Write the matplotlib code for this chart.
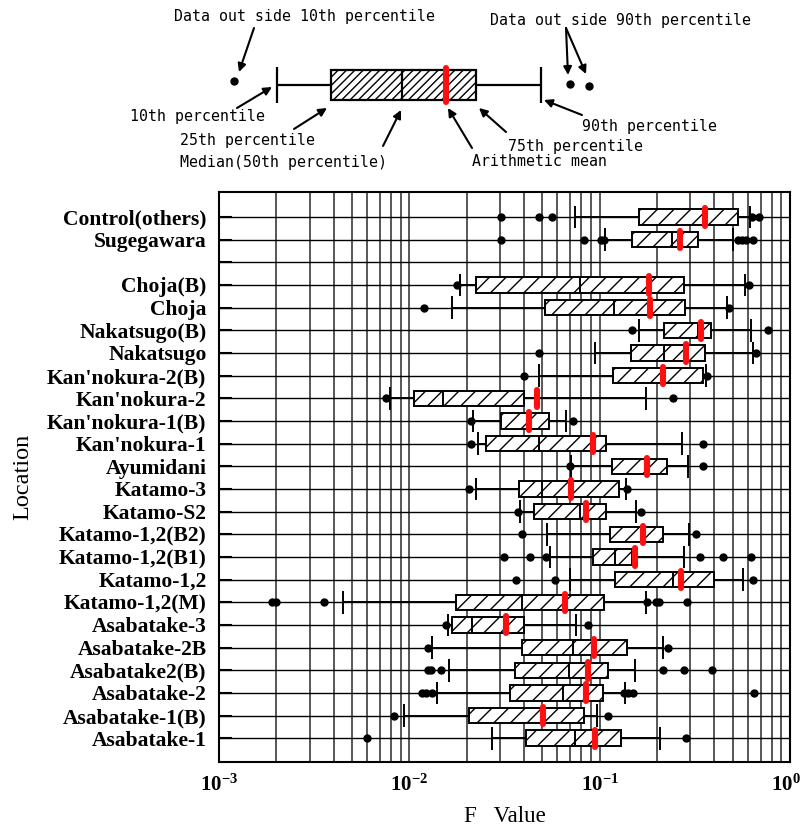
import numpy as np
import matplotlib
matplotlib.use("Agg")
import matplotlib.pyplot as plt
from matplotlib.ticker import LogLocator, NullFormatter

plt.rcParams['font.family'] = ['Liberation Serif', 'DejaVu Serif']
plt.rcParams['font.weight'] = 'bold'
plt.rcParams['hatch.linewidth'] = 1.0

# rows from top to bottom ('' = empty spacer row)
locations = ["Control(others)", "Sugegawara", "", "Choja(B)", "Choja",
             "Nakatsugo(B)", "Nakatsugo", "Kan'nokura-2(B)", "Kan'nokura-2",
             "Kan'nokura-1(B)", "Kan'nokura-1", "Ayumidani", "Katamo-3",
             "Katamo-S2", "Katamo-1,2(B2)", "Katamo-1,2(B1)", "Katamo-1,2",
             "Katamo-1,2(M)", "Asabatake-3", "Asabatake-2B", "Asabatake2(B)",
             "Asabatake-2", "Asabatake-1(B)", "Asabatake-1"]

p10 = [0.074, 0.107, None, 0.0185, 0.0168, 0.161, 0.0947, 0.048, 0.0079,
       0.0217, 0.0229, 0.0705, 0.0225, 0.038, 0.053, 0.0547, 0.070, 0.00449,
       0.016, 0.0132, 0.0162, 0.014, 0.00935, 0.0272]
p25 = [0.161, 0.147, None, 0.0225, 0.0518, 0.219, 0.146, 0.118, 0.0106,
       0.0304, 0.0252, 0.116, 0.0376, 0.0453, 0.1135, 0.0927, 0.12, 0.0176,
       0.0168, 0.0393, 0.036, 0.0336, 0.0206, 0.0412]
median = [0.355, 0.239, None, 0.079, 0.119, 0.33, 0.218, 0.21, 0.015,
          0.042, 0.0482, 0.175, 0.050, 0.079, 0.165, 0.12, 0.244, 0.039,
          0.0214, 0.0726, 0.0686, 0.064, 0.05, 0.0743]
mean = [0.358, 0.264, None, 0.182, 0.183, 0.342, 0.283, 0.214, 0.0469,
        0.0423, 0.0918, 0.178, 0.0707, 0.0846, 0.169, 0.153, 0.2685, 0.066,
        0.0323, 0.093, 0.0865, 0.0846, 0.0506, 0.0947]
p75 = [0.53, 0.327, None, 0.279, 0.280, 0.383, 0.358, 0.35, 0.0399,
       0.054, 0.108, 0.226, 0.127, 0.108, 0.214, 0.1486, 0.397, 0.106,
       0.0402, 0.139, 0.111, 0.104, 0.0828, 0.129]
p90 = [0.62, 0.502, None, 0.582, 0.464, 0.623, 0.643, 0.362, 0.175,
       0.0664, 0.271, 0.29, 0.138, 0.156, 0.294, 0.277, 0.564, 0.175,
       0.075, 0.216, 0.153, 0.136, 0.0973, 0.2065]
outliers = [[0.0304, 0.0478, 0.0564, 0.635, 0.685],
            [0.0304, 0.0828, 0.102, 0.105, 0.53, 0.56, 0.59, 0.64],
            [],
            [0.0179, 0.61],
            [0.012, 0.479],
            [0.1486, 0.77],
            [0.0478, 0.66],
            [0.0399, 0.365],
            [0.0075, 0.244],
            [0.0212, 0.0722],
            [0.0212, 0.347],
            [0.070, 0.347],
            [0.0207, 0.14],
            [0.0373, 0.165],
            [0.039, 0.32],
            [0.0314, 0.0428, 0.0522, 0.336, 0.445, 0.623],
            [0.0365, 0.0585, 0.637],
            [0.0019, 0.00199, 0.00355, 0.177, 0.197, 0.204, 0.287],
            [0.0156, 0.0865],
            [0.0125, 0.228],
            [0.0125, 0.013, 0.0146, 0.214, 0.277, 0.388],
            [0.0116, 0.0123, 0.0132, 0.135, 0.141, 0.15, 0.648],
            [0.00835, 0.11],
            [0.006, 0.283]]

x_ticks = [1e-3, 1e-2, 1e-1, 1e0]
x_ticklabels = [r'$\mathdefault{10^{-3}}$', r'$\mathdefault{10^{-2}}$',
                r'$\mathdefault{10^{-1}}$', r'$\mathdefault{10^{0}}$']

# schematic legend box (arbitrary units, drawn in pixel space of the top strip)
leg_out_lo = [234]
leg_stats = [277, 331, 402, 446, 476, 541]   # p10, p25, median, mean, p75, p90
leg_out_hi = [570, 589]


def draw_box(ax, y, lo, q1, med, mu, q3, hi, outs, hbox, hcap, hmean, hatch, lw):
    ax.hlines(y, lo, q1, color='black', lw=lw, zorder=3)
    ax.hlines(y, q3, hi, color='black', lw=lw, zorder=3)
    ax.vlines([lo, hi], y - hcap, y + hcap, color='black', lw=lw, zorder=3)
    ax.barh(y, q3 - q1, left=q1, height=2 * hbox, facecolor='white',
            edgecolor='black', hatch=hatch, lw=lw, zorder=4)
    ax.vlines(med, y - hbox, y + hbox, color='black', lw=lw, zorder=5)
    ax.plot([mu, mu], [y - hmean, y + hmean], color='#ff1010', lw=4.4,
            solid_capstyle='round', zorder=6)
    if outs:
        ax.plot(outs, [y] * len(outs), 'o', color='black', ms=5, zorder=6)


fig = plt.figure(figsize=(8.01, 8.31), dpi=100)

# ---- legend schematic ----
lax = fig.add_axes([0, 0, 1, 1])
lax.set_xlim(0, 801)
lax.set_ylim(831, 0)
lax.axis('off')
draw_box(lax, 85, leg_stats[0], leg_stats[1], leg_stats[2], leg_stats[3],
         leg_stats[4], leg_stats[5], [], 15, 18, 17, '////', 1.6)
lax.plot(leg_out_lo + leg_out_hi, [81, 84, 86], 'o', color='black', ms=5)

mono = ['DejaVu Sans Mono', 'DejaVu Sans']
texts = [("Data out side 10th percentile", 305, 17),
         ("Data out side 90th percentile", 621, 20),
         ("10th percentile", 198, 117),
         ("25th percentile", 247, 141),
         ("Median(50th percentile)", 283, 163),
         ("Arithmetic mean", 539, 162),
         ("75th percentile", 576, 146),
         ("90th percentile", 650, 127)]
for t, x, y in texts:
    lax.text(x, y, t, ha='center', va='center', fontsize=10.7,
             family=mono, weight='normal')

arrows = [((254, 28), (239, 72)), ((566, 28), (568, 75)), ((566, 28), (586, 74)),
          ((237, 108), (272, 87)), ((294, 129), (327, 108)),
          ((383, 146), (401, 110)), ((472, 148), (448, 108)),
          ((506, 132), (479, 108)), ((582, 115), (544, 100))]
for s, e in arrows:
    lax.annotate('', xy=e, xytext=s,
                 arrowprops=dict(arrowstyle='-|>', color='black', lw=1.5,
                                 mutation_scale=12, shrinkA=0, shrinkB=0))

# ---- main chart ----
ax = fig.add_axes([219 / 801, 1 - 762 / 831, (790 - 219) / 801, (762 - 192) / 831])
rows = np.arange(len(locations))
ax.set_xscale('log')
ax.set_xlim(1e-3, 1)
ax.set_ylim(len(locations) - 1 + 1.05, -1.1)

for i in rows:
    if p10[i] is None:
        continue
    draw_box(ax, i, p10[i], p25[i], median[i], mean[i], p75[i], p90[i],
             outliers[i], 0.34, 0.5, 0.38, '//', 1.4)

ax.xaxis.set_major_locator(LogLocator(base=10, numticks=10))
ax.xaxis.set_minor_locator(LogLocator(base=10, subs=np.arange(2, 10), numticks=20))
ax.xaxis.set_minor_formatter(NullFormatter())
ax.grid(which='both', axis='x', color='#2a2a2a', lw=1.1, zorder=0)
ax.set_yticks(rows)
ax.set_yticklabels(locations)
ax.grid(which='major', axis='y', color='black', lw=1.0, zorder=0)
ax.set_axisbelow(True)

ax.tick_params(axis='x', which='both', length=0, labelbottom=False)
ax.tick_params(axis='y', direction='in', length=9, width=1.5, labelsize=15.5, pad=9)
for sp in ax.spines.values():
    sp.set_linewidth(1.5)

# decade labels placed under the axis (last one nudged left to stay inside)
for k, (v, lab) in enumerate(zip(x_ticks, x_ticklabels)):
    dx = -3 if k == len(x_ticks) - 1 else 0
    ax.annotate(lab, xy=(v, 0), xycoords=('data', 'axes fraction'),
                xytext=(dx, -9), textcoords='offset points',
                ha='center', va='top', fontsize=15)

ax.set_xlabel("F   Value", fontsize=16.5, labelpad=32)
ax.set_ylabel("Location", fontsize=17.5, labelpad=10)

fig.savefig("out.png", dpi=100)
